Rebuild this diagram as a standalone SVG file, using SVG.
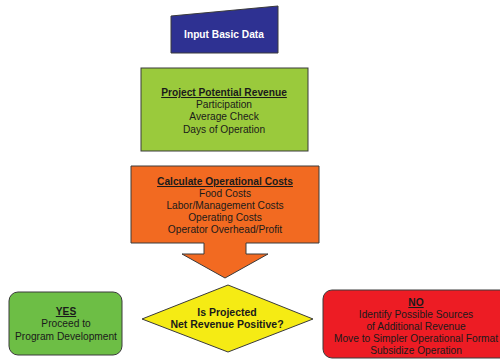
<svg xmlns="http://www.w3.org/2000/svg" width="500" height="362" viewBox="0 0 500 362">
<style>
text{font-family:"Liberation Sans",Arial,sans-serif;font-size:10.2px;text-anchor:middle;fill:#1a1a1a}
.b{font-weight:bold}
.u{text-decoration:underline}
.w{fill:#fff}
.d{font-size:10.5px}
.s{stroke:#3a3a3a;stroke-width:1}
</style>
<rect width="500" height="362" fill="#fff"/>
<g id="input">
<path class="s" d="M171,16 L278,6 L278,53 L171,53 Z" fill="#2E3192"/>
<text class="b w" x="224" y="38">Input Basic Data</text>
</g>
<g id="revenue">
<rect class="s" x="141" y="68" width="167" height="83" fill="#9ACA3C"/>
<text class="b u" x="224" y="96">Project Potential Revenue</text>
<text x="224" y="108">Participation</text>
<text x="224" y="120">Average Check</text>
<text x="224" y="133">Days of Operation</text>
</g>
<g id="costs">
<path class="s" d="M131,166 L319,166 L319,243 L246,243 L246,254 L268,254 L225,278 L182,254 L204,254 L204,243 L131,243 Z" fill="#F26A21"/>
<text class="b u" x="225" y="185">Calculate Operational Costs</text>
<text x="225" y="197">Food Costs</text>
<text x="225" y="209">Labor/Management Costs</text>
<text x="225" y="221">Operating Costs</text>
<text x="225" y="233">Operator Overhead/Profit</text>
</g>
<g id="decision">
<path class="s" d="M142,319 L228,285 L313,319 L228,352 Z" fill="#F5EB14"/>
<text class="b d" x="227" y="316">Is Projected</text>
<text class="b d" x="227" y="328">Net Revenue Positive?</text>
</g>
<g id="yes">
<rect class="s" x="9" y="292" width="113" height="63" rx="9" fill="#6DBE45"/>
<text class="b u" x="66" y="315">YES</text>
<text x="66" y="327">Proceed to</text>
<text x="66" y="340">Program Development</text>
</g>
<g id="no">
<rect class="s" x="323" y="290" width="190" height="68" rx="9" fill="#ED1C24"/>
<text class="b u" x="416" y="306">NO</text>
<text x="416" y="318">Identify Possible Sources</text>
<text x="416" y="330">of Additional Revenue</text>
<text x="416" y="342">Move to Simpler Operational Format</text>
<text x="416" y="354">Subsidize Operation</text>
</g>
<g id="connectors"></g>
</svg>
